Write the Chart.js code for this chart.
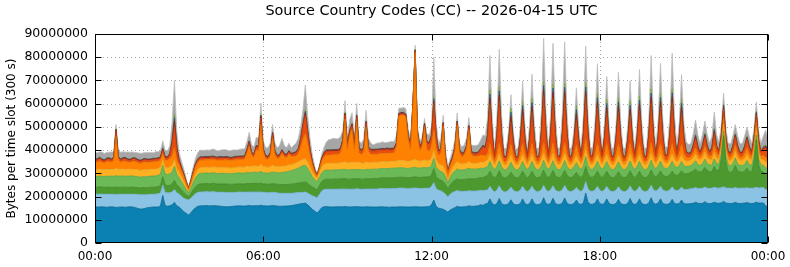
<!DOCTYPE html>
<html><head><meta charset="utf-8">
<script src="https://cdn.jsdelivr.net/npm/chart.js@4"></script>
<style>html,body{margin:0;padding:0;background:#fff}canvas{display:block}</style>
</head><body>
<canvas id="c" width="790" height="267"></canvas>
<script>
const UNIT = 1e6;
const SLOT_HOURS = 5 / 60;
const xTickHours = [0, 6, 12, 18, 24];
const yTicks = [0,10e6,20e6,30e6,40e6,50e6,60e6,70e6,80e6,90e6];
const seriesNames = ['CC 1','CC 2','CC 3','CC 4','CC 5','CC 6','CC 7','CC 8','CC 9','CC 10','other'];

const cc1 = [
15.6,15.5,15.5,15.6,15.5,15.4,15.5,15.6,15.5,15.3,15.4,15.5,15.5,15.4,15.5,15.6,15.5,15.3,15.0,14.7,14.6,14.8,15.1,15.3,
15.4,15.5,15.5,15.5,16.0,20.5,16.2,15.8,16.0,16.5,17.5,16.0,15.5,14.5,13.5,12.8,12.0,13.0,14.2,15.2,15.8,16.0,16.0,16.1,
16.1,16.0,16.0,16.1,16.0,15.9,15.8,15.7,15.6,15.6,15.7,15.8,15.9,16.0,16.0,15.9,15.9,16.0,16.2,16.0,16.0,16.1,16.0,16.3,
16.0,16.0,15.9,16.0,16.2,16.0,15.9,15.8,15.8,15.9,15.9,16.0,16.1,16.3,16.5,16.7,16.9,17.0,17.2,16.5,15.5,14.5,13.8,12.9,
14.0,15.2,15.6,15.7,15.6,15.5,15.5,15.6,15.6,15.6,15.6,15.7,15.6,15.5,15.6,15.6,15.7,15.6,15.5,15.5,15.6,15.6,15.5,15.5,
15.5,15.5,15.6,15.6,15.5,15.5,15.4,15.5,15.5,15.5,15.6,15.6,15.6,15.5,15.5,15.5,15.6,15.6,15.6,15.5,15.5,15.6,15.6,15.7,
16.5,18.5,15.8,15.0,14.8,14.5,14.0,13.3,14.2,14.8,15.2,15.8,15.5,15.5,15.6,15.7,16.0,15.8,15.8,15.9,16.0,16.5,16.2,16.8,
17.0,19.0,17.0,16.4,17.0,19.2,17.0,16.4,16.5,17.0,18.6,16.9,16.5,16.5,17.0,19.0,17.0,16.5,17.0,19.0,17.0,16.5,16.6,17.1,
19.5,17.0,16.6,17.1,19.3,17.0,16.6,16.6,17.2,19.4,17.1,16.6,16.6,17.0,18.5,16.9,16.6,17.3,21.5,17.5,16.7,16.7,17.1,19.0,
17.0,16.6,17.1,19.0,17.0,16.6,16.6,17.0,18.8,17.0,16.6,16.6,17.1,19.2,17.0,16.6,17.1,19.0,17.0,16.6,16.6,17.2,19.5,17.1,
16.7,17.2,19.0,17.0,16.7,16.7,17.1,18.8,17.0,16.8,17.0,18.5,17.0,16.8,16.9,17.0,17.1,17.6,17.1,17.0,17.1,17.8,17.1,17.0,
17.1,17.6,17.2,17.1,17.3,17.9,17.2,17.1,17.0,17.1,17.5,17.1,17.0,17.1,17.2,17.4,17.1,17.0,17.1,17.6,17.2,17.2,17.3,16.0,
15.5];

const cc2 = [
5.5,5.5,5.6,5.5,5.5,5.6,5.5,5.4,5.5,5.6,5.6,5.5,5.5,5.6,5.5,5.4,5.5,5.7,5.9,6.1,6.2,6.0,5.7,5.6,
5.6,5.5,5.6,5.7,5.5,4.5,5.6,5.8,5.6,5.5,5.5,5.6,5.6,5.6,5.8,6.0,6.5,6.3,6.1,6.0,6.0,6.0,6.0,6.0,
6.0,6.0,6.1,6.0,5.9,6.0,6.1,6.1,6.2,6.2,6.1,6.0,5.9,5.9,6.0,6.0,6.0,5.9,5.8,6.0,6.0,5.9,6.0,5.7,
5.8,5.8,5.7,5.7,5.6,5.7,5.7,5.6,5.6,5.5,5.5,5.4,5.3,5.2,5.1,5.0,4.9,4.8,4.8,5.0,5.4,5.8,6.2,6.5,
6.8,7.2,7.4,7.5,7.6,7.6,7.7,7.6,7.6,7.7,7.7,7.6,7.6,7.7,7.6,7.6,7.7,7.7,7.6,7.7,7.7,7.7,7.8,7.8,
7.8,7.8,7.9,7.9,7.9,8.0,8.0,8.0,8.0,8.0,8.1,8.1,8.1,8.0,8.0,8.0,8.1,8.1,8.0,8.0,8.0,8.0,8.0,7.9,
7.8,7.5,7.6,7.8,7.6,7.4,7.0,6.5,6.8,7.0,7.0,6.8,6.8,6.7,6.7,6.6,6.5,6.6,6.6,6.5,6.5,6.2,6.3,6.0,
5.8,5.4,5.8,5.6,5.8,5.4,5.8,5.6,5.6,5.8,5.4,5.8,5.6,5.6,5.8,5.4,5.8,5.6,5.8,5.4,5.8,5.6,5.6,5.8,
5.4,5.8,5.6,5.8,5.4,5.8,5.6,5.6,5.8,5.4,5.8,5.6,5.6,5.8,5.4,5.8,5.6,5.8,5.0,5.8,5.6,5.6,5.8,5.4,
5.8,5.6,5.8,5.4,5.8,5.6,5.6,5.8,5.4,5.8,5.6,5.6,5.8,5.4,5.8,5.6,5.8,5.4,5.8,5.6,5.6,5.8,5.4,5.8,
5.7,5.8,5.4,5.8,5.7,5.7,5.8,5.4,5.8,5.8,5.9,5.6,6.0,6.2,6.3,6.4,6.4,6.3,6.4,6.5,6.5,6.3,6.5,6.5,
6.5,6.4,6.5,6.6,6.5,6.3,6.5,6.6,6.6,6.5,6.4,6.5,6.6,6.6,6.5,6.4,6.5,6.6,6.6,6.4,6.5,6.6,6.6,7.0,
7.2];

const cc3 = [
3.0,3.0,3.1,3.0,3.0,3.1,3.0,3.0,3.0,3.2,3.0,3.0,3.1,3.0,3.0,3.0,3.1,3.0,3.0,3.0,3.0,3.1,3.0,3.0,
3.0,3.0,3.0,3.1,3.2,3.5,3.2,3.1,3.2,3.5,4.0,3.5,3.0,2.8,2.5,2.0,1.5,2.0,2.6,3.0,3.3,3.5,3.5,3.5,
3.5,3.5,3.5,3.6,3.5,3.5,3.5,3.6,3.6,3.5,3.5,3.5,3.6,3.6,3.5,3.5,3.6,3.7,3.6,3.6,3.7,3.7,3.6,3.8,
3.6,3.6,3.6,3.7,3.8,3.7,3.7,3.7,3.8,3.8,3.8,3.9,3.9,4.0,4.0,4.1,4.2,4.3,4.3,4.2,4.0,3.8,3.6,3.5,
3.8,4.0,4.2,4.3,4.3,4.3,4.3,4.4,4.3,4.3,4.4,4.4,4.3,4.3,4.4,4.4,4.3,4.4,4.4,4.3,4.4,4.4,4.4,4.5,
4.5,4.5,4.5,4.6,4.6,4.6,4.6,4.6,4.6,4.7,4.6,4.6,4.6,4.6,4.6,4.7,4.7,4.8,4.7,4.7,4.8,4.8,4.8,4.9,
5.0,6.0,5.2,4.8,4.7,4.6,4.2,3.5,4.0,4.5,4.8,5.0,5.0,5.0,5.1,5.2,5.2,5.2,5.3,5.3,5.4,5.5,5.6,5.8,
6.3,6.5,6.3,6.0,6.3,6.5,6.3,6.0,6.0,6.3,6.5,6.3,6.0,6.0,6.3,6.5,6.3,6.0,6.3,6.5,6.3,6.0,6.0,6.3,
6.5,6.3,6.0,6.3,6.5,6.3,6.0,6.0,6.3,6.5,6.3,6.0,6.0,6.3,6.5,6.3,6.0,6.3,6.5,6.3,6.0,6.0,6.3,6.5,
6.3,6.0,6.3,6.5,6.3,6.0,6.0,6.3,6.5,6.3,6.0,6.0,6.3,6.5,6.3,6.0,6.3,6.5,6.3,6.0,6.0,6.3,6.5,6.3,
6.2,6.4,6.6,6.4,6.3,6.3,6.5,6.8,6.6,6.5,6.7,7.0,6.8,6.7,6.8,7.0,7.5,8.0,7.2,7.0,7.4,8.5,7.5,7.2,
7.0,9.0,7.5,7.5,12.0,22.0,11.0,7.0,6.8,7.5,9.5,7.5,7.0,6.8,7.2,8.5,7.2,7.0,11.0,20.5,10.0,7.0,6.8,6.5,
6.5];

const cc4 = [
4.6,4.6,4.7,4.6,4.6,4.7,4.7,4.8,4.7,4.9,4.8,4.8,4.8,4.7,4.8,4.8,4.8,4.7,4.7,4.6,4.6,4.7,4.7,4.8,
4.8,4.8,4.8,4.9,5.0,5.0,4.8,4.8,5.0,5.0,6.0,4.5,4.0,3.5,3.0,2.2,1.5,2.2,3.0,3.8,4.3,4.5,4.5,4.5,
4.5,4.5,4.6,4.6,4.5,4.5,4.6,4.6,4.6,4.5,4.5,4.6,4.6,4.7,4.7,4.6,4.6,4.8,4.7,4.7,4.8,4.8,4.8,5.0,
4.8,4.8,4.8,4.9,5.0,5.0,5.0,5.1,5.2,5.3,5.5,5.6,5.8,6.0,6.2,6.5,6.8,7.2,7.2,6.5,5.5,4.5,3.8,3.5,
3.6,3.8,3.9,3.9,3.9,3.9,4.0,3.9,3.9,4.0,4.0,4.0,3.9,4.0,4.0,4.0,3.9,4.0,4.0,3.9,4.0,4.0,4.0,4.0,
4.0,4.0,4.0,4.0,4.0,4.0,4.1,4.1,4.1,4.1,4.1,4.1,4.1,4.0,4.0,4.1,4.1,4.1,4.0,4.0,4.1,4.1,4.0,4.0,
4.2,4.5,4.0,3.8,3.7,3.8,3.3,2.5,3.2,3.7,4.0,4.3,4.2,4.2,4.2,4.3,4.5,4.2,4.2,4.1,4.0,4.0,4.0,3.8,
3.8,4.2,3.8,3.4,3.8,4.2,3.8,3.4,3.4,3.8,4.2,3.8,3.4,3.4,3.8,4.2,3.8,3.4,3.8,4.2,3.8,3.4,3.4,3.8,
4.2,3.8,3.4,3.8,4.2,3.8,3.4,3.4,3.8,4.2,3.8,3.4,3.4,3.8,4.2,3.8,3.4,3.8,4.2,3.8,3.4,3.4,3.8,4.2,
3.8,3.4,3.8,4.2,3.8,3.4,3.4,3.8,4.2,3.8,3.4,3.4,3.8,4.2,3.8,3.4,3.8,4.2,3.8,3.4,3.4,3.8,4.2,3.8,
3.4,3.8,4.2,3.8,3.4,3.4,3.8,4.2,3.8,3.4,3.6,4.0,3.5,3.2,3.0,3.0,3.2,3.5,3.0,2.9,3.2,3.5,3.0,2.9,
2.9,3.2,2.9,2.8,2.5,2.0,2.5,2.9,2.9,3.0,3.2,2.9,2.8,2.8,2.9,3.2,2.9,2.8,2.5,2.0,2.5,2.8,2.8,2.8,
2.8];

const cc5 = [
3.0,3.0,3.0,3.0,3.1,3.0,3.0,3.0,3.0,3.2,3.0,3.0,3.0,3.0,3.0,3.1,3.0,3.0,3.0,3.0,3.0,3.0,3.0,3.0,
3.0,3.0,3.0,3.0,2.8,2.5,2.8,2.8,3.0,3.0,3.0,2.5,2.5,2.2,1.8,1.3,0.8,1.2,1.7,2.1,2.4,2.5,2.5,2.5,
2.5,2.5,2.5,2.5,2.6,2.5,2.5,2.5,2.5,2.6,2.5,2.5,2.5,2.5,2.6,2.6,2.6,2.8,2.6,2.6,2.8,2.7,2.7,3.0,
2.7,2.6,2.6,2.6,2.9,2.6,2.6,2.6,2.7,2.6,2.6,2.8,2.6,2.6,2.7,2.7,2.7,2.8,2.8,2.6,2.3,2.0,1.7,1.5,
2.0,2.5,2.8,3.0,3.0,3.0,3.0,3.0,3.0,3.0,3.1,3.3,3.1,3.2,3.2,3.1,3.3,3.1,3.0,3.0,3.2,3.0,3.0,3.0,
3.0,3.0,3.0,3.0,3.0,3.0,3.0,3.0,3.0,3.0,3.2,3.2,3.2,3.2,3.0,3.0,3.2,3.4,3.2,3.0,3.1,3.3,3.1,3.0,
3.0,3.5,3.0,2.8,2.8,3.0,2.2,1.5,2.0,2.5,2.8,3.2,2.8,2.6,2.6,2.6,3.0,2.6,2.5,2.5,2.5,2.7,2.6,2.7,
2.8,3.2,2.8,2.2,2.8,3.2,2.8,2.2,2.2,2.8,3.2,2.8,2.2,2.2,2.8,3.2,2.8,2.2,2.8,3.2,2.8,2.2,2.2,2.8,
3.2,2.8,2.2,2.8,3.2,2.8,2.2,2.2,2.8,3.2,2.8,2.2,2.2,2.8,3.2,2.8,2.2,2.8,3.2,2.8,2.2,2.2,2.8,3.2,
2.8,2.2,2.8,3.2,2.8,2.2,2.2,2.8,3.2,2.8,2.2,2.2,2.8,3.2,2.8,2.2,2.8,3.2,2.8,2.2,2.2,2.8,3.2,2.8,
2.2,2.8,3.2,2.8,2.2,2.2,2.8,3.2,2.8,2.4,2.6,3.0,2.6,2.4,2.3,2.3,2.6,3.0,2.5,2.3,2.6,3.0,2.5,2.3,
2.3,2.8,2.4,2.3,2.6,3.0,2.6,2.3,2.3,2.6,3.0,2.5,2.3,2.4,2.6,3.0,2.6,2.4,2.6,3.0,2.6,2.4,2.4,2.4,
2.4];

const cc6 = [
3.0,3.2,3.4,3.0,2.8,3.2,3.4,3.0,3.6,13.8,3.8,3.0,3.3,3.5,3.0,2.8,3.2,3.4,3.1,2.9,3.0,3.3,3.2,3.0,
3.0,3.2,3.1,3.0,3.0,2.5,3.0,3.2,3.5,4.0,5.0,3.5,3.0,2.5,2.0,1.5,0.8,1.3,2.0,2.6,3.0,3.2,3.2,3.2,
3.2,3.3,3.2,3.1,3.2,3.3,3.2,3.2,3.3,3.2,3.1,3.2,3.3,3.2,3.2,3.3,3.4,5.3,8.7,4.7,3.5,6.8,6.5,17.2,
6.2,3.5,3.3,4.5,11.5,5.0,3.4,3.8,5.5,4.0,3.4,4.5,3.5,3.2,3.0,3.5,5.5,8.5,10.7,8.0,5.0,3.0,1.5,0.8,
1.5,2.5,3.2,3.5,3.5,3.6,3.5,3.5,3.6,4.0,7.3,18.4,5.6,11.6,14.1,5.6,17.5,4.0,3.5,4.5,15.0,4.5,3.5,3.4,
3.5,3.5,3.4,3.5,3.5,3.6,3.5,3.5,3.6,6.0,19.0,19.4,19.4,19.0,10.0,5.0,22.0,46.1,11.0,4.5,6.0,14.0,5.0,3.8,
5.0,8.7,5.0,3.5,5.0,17.0,5.0,2.5,3.0,3.0,6.0,15.5,4.5,3.0,3.5,6.0,13.5,3.5,3.0,3.0,3.0,3.0,3.0,2.5,
2.5,4.5,2.5,1.4,2.5,4.5,2.5,1.4,1.4,2.5,4.5,2.5,1.4,1.4,2.5,4.5,2.5,1.4,2.5,4.5,2.5,1.4,1.4,2.5,
4.5,2.5,1.4,2.5,4.5,2.5,1.4,1.4,2.5,4.5,2.5,1.4,1.4,2.5,4.5,2.5,1.4,2.5,4.5,2.5,1.4,1.4,2.5,4.5,
2.5,1.4,2.5,4.5,2.5,1.4,1.4,2.5,4.5,2.5,1.4,1.4,2.5,4.5,2.5,1.4,2.5,4.5,2.5,1.4,1.4,2.5,4.5,2.5,
1.4,2.5,4.5,2.5,1.4,1.4,2.5,4.5,2.5,1.4,2.5,4.5,2.5,1.5,1.3,1.3,2.0,2.5,2.0,1.3,2.0,2.5,2.0,1.3,
2.0,3.0,2.0,1.3,2.0,2.5,2.0,1.3,1.3,2.0,2.5,2.0,1.3,1.3,2.0,2.5,2.0,1.3,2.0,2.5,2.0,1.3,2.0,2.0,
2.0];

const cc7 = [
0.8,0.9,1.0,0.8,0.7,0.9,1.0,0.8,1.0,2.0,1.0,0.8,0.9,1.0,0.8,0.7,0.9,1.0,0.9,0.8,0.8,0.9,0.9,0.8,
0.8,0.9,0.8,0.9,1.0,1.5,1.0,1.0,1.5,5.0,9.0,4.5,1.5,1.0,0.8,0.5,0.3,0.5,0.7,0.8,0.8,0.8,0.8,0.8,
0.8,0.8,0.9,0.8,0.7,0.8,0.9,0.8,0.8,0.9,0.8,0.8,0.9,0.8,0.8,0.9,0.9,1.1,1.5,1.0,0.9,1.3,1.3,2.7,
1.0,0.8,0.8,0.9,1.8,1.0,0.8,0.9,1.0,0.9,0.8,1.0,0.8,1.0,1.2,1.5,3.0,5.5,8.0,4.5,2.0,1.0,0.6,0.3,
0.5,0.9,1.2,1.5,1.5,1.5,1.5,1.5,1.5,1.5,1.6,1.8,1.5,1.6,1.7,1.5,1.8,1.5,1.5,1.5,1.7,1.5,1.5,1.4,
1.4,1.4,1.5,1.4,1.4,1.5,1.4,1.4,1.4,1.2,0.6,0.6,0.6,0.6,1.0,1.2,0.6,0.5,1.0,1.2,1.3,1.0,2.5,3.0,
4.0,11.3,5.0,1.5,1.5,1.0,1.0,0.8,0.8,1.0,1.0,1.2,1.0,1.0,1.0,1.0,1.2,1.0,1.0,1.0,1.2,2.0,3.5,3.0,
7.1,17.1,7.1,1.8,7.4,18.2,7.4,1.8,1.8,4.5,9.6,4.5,1.5,1.8,5.3,12.1,5.3,1.8,5.8,13.4,5.8,1.8,1.8,8.1,
20.2,8.1,1.8,7.8,19.3,7.8,1.8,1.8,7.9,19.5,7.9,1.8,1.8,5.0,10.8,5.0,1.8,7.3,18.0,7.3,1.8,1.8,6.5,15.5,
6.5,1.8,5.6,13.0,5.6,1.8,1.8,5.9,13.9,5.9,1.8,1.8,5.3,12.1,5.3,1.8,6.1,14.4,6.1,1.8,1.8,7.0,16.9,7.0,
1.8,6.5,15.5,6.5,1.8,1.8,7.2,17.5,7.2,1.8,5.8,13.4,5.8,2.0,1.5,1.5,2.5,4.0,2.5,1.5,2.5,3.8,2.5,1.5,
2.5,5.0,2.5,1.5,2.5,4.0,2.5,1.5,1.5,2.5,3.5,2.5,1.5,1.5,2.5,3.5,2.5,1.5,2.5,3.0,2.5,1.5,2.5,4.0,
2.5];

const cc8 = [
0.4,0.4,0.4,0.4,0.4,0.4,0.4,0.4,0.4,0.8,0.4,0.4,0.4,0.4,0.4,0.4,0.4,0.4,0.4,0.4,0.4,0.4,0.4,0.4,
0.4,0.4,0.4,0.4,0.4,0.5,0.4,0.4,0.5,1.0,2.5,1.0,0.5,0.4,0.3,0.2,0.1,0.2,0.3,0.4,0.4,0.4,0.4,0.4,
0.4,0.4,0.4,0.4,0.4,0.4,0.4,0.4,0.4,0.4,0.4,0.4,0.4,0.4,0.4,0.4,0.4,0.4,0.6,0.4,0.4,0.5,0.5,1.0,
0.4,0.4,0.4,0.4,0.6,0.4,0.4,0.4,0.4,0.4,0.4,0.4,0.4,0.4,0.4,0.5,0.6,0.8,1.0,0.8,0.5,0.4,0.3,0.2,
0.2,0.3,0.4,0.5,0.5,0.5,0.5,0.5,0.5,0.5,0.5,0.6,0.5,0.5,0.6,0.5,0.6,0.5,0.5,0.5,0.6,0.5,0.5,0.5,
0.5,0.5,0.5,0.5,0.5,0.5,0.5,0.5,0.5,0.5,0.4,0.4,0.4,0.4,0.4,0.5,0.4,0.4,0.5,0.5,0.5,0.5,0.5,0.6,
0.6,1.0,0.6,0.4,0.4,0.4,0.3,0.2,0.3,0.4,0.4,0.5,0.4,0.4,0.4,0.4,0.5,0.4,0.4,0.4,0.4,0.5,0.6,0.6,
1.0,2.5,1.0,0.3,1.0,2.5,1.0,0.3,0.3,1.0,2.5,1.0,0.3,0.3,1.0,2.5,1.0,0.3,1.0,2.5,1.0,0.3,0.3,1.0,
2.5,1.0,0.3,1.0,2.5,1.0,0.3,0.3,1.0,2.5,1.0,0.3,0.3,1.0,2.5,1.0,0.3,1.0,2.5,1.0,0.3,0.3,1.0,2.5,
1.0,0.3,1.0,2.5,1.0,0.3,0.3,1.0,2.5,1.0,0.3,0.3,1.0,2.5,1.0,0.3,1.0,2.5,1.0,0.3,0.3,1.0,2.5,1.0,
0.3,1.0,2.5,1.0,0.3,0.3,1.0,2.5,1.0,0.3,1.0,2.5,1.0,0.4,0.4,0.4,0.6,1.0,0.6,0.4,0.6,1.0,0.6,0.4,
0.6,1.2,0.6,0.4,0.6,1.0,0.6,0.4,0.4,0.6,0.8,0.6,0.4,0.4,0.6,0.8,0.6,0.4,0.6,0.8,0.6,0.4,0.6,0.8,
0.6];

const cc9 = [
0.2,0.2,0.2,0.2,0.2,0.2,0.2,0.2,0.2,0.2,0.2,0.2,0.2,0.2,0.2,0.2,0.2,0.2,0.2,0.2,0.2,0.2,0.2,0.2,
0.2,0.2,0.2,0.2,0.2,0.3,0.2,0.2,0.2,0.6,1.5,0.5,0.2,0.1,0.1,0.1,0.05,0.1,0.1,0.2,0.2,0.2,0.2,0.2,
0.2,0.2,0.2,0.2,0.2,0.2,0.2,0.2,0.2,0.2,0.2,0.2,0.2,0.2,0.2,0.2,0.2,0.2,0.2,0.2,0.2,0.2,0.2,0.3,
0.2,0.2,0.2,0.2,0.2,0.2,0.2,0.2,0.2,0.2,0.2,0.2,0.2,0.2,0.2,0.2,0.3,0.5,0.7,0.4,0.2,0.1,0.1,0.05,
0.1,0.1,0.2,0.2,0.2,0.2,0.2,0.2,0.2,0.2,0.2,0.2,0.2,0.2,0.2,0.2,0.2,0.2,0.2,0.2,0.2,0.2,0.2,0.2,
0.2,0.2,0.2,0.2,0.2,0.2,0.2,0.2,0.2,0.2,0.2,0.2,0.2,0.2,0.2,0.2,0.2,0.2,0.2,0.2,0.2,0.2,0.3,0.3,
0.4,1.0,0.4,0.2,0.2,0.2,0.1,0.1,0.1,0.2,0.2,0.2,0.2,0.2,0.2,0.2,0.2,0.2,0.2,0.2,0.2,0.2,0.3,0.3,
0.5,1.8,0.5,0.1,0.5,1.8,0.5,0.1,0.1,0.5,1.8,0.5,0.1,0.1,0.5,1.8,0.5,0.1,0.5,1.8,0.5,0.1,0.1,0.5,
1.8,0.5,0.1,0.5,1.8,0.5,0.1,0.1,0.5,1.8,0.5,0.1,0.1,0.5,1.8,0.5,0.1,0.5,1.8,0.5,0.1,0.1,0.5,1.8,
0.5,0.1,0.5,1.8,0.5,0.1,0.1,0.5,1.8,0.5,0.1,0.1,0.5,1.8,0.5,0.1,0.5,1.8,0.5,0.1,0.1,0.5,1.8,0.5,
0.1,0.5,1.8,0.5,0.1,0.1,0.5,1.8,0.5,0.1,0.5,1.8,0.5,0.2,0.2,0.2,0.3,0.5,0.3,0.2,0.3,0.5,0.3,0.2,
0.3,0.6,0.3,0.2,0.3,0.6,0.3,0.2,0.2,0.3,0.4,0.3,0.2,0.2,0.3,0.4,0.3,0.2,0.3,0.5,0.3,0.2,0.3,0.4,
0.3];

const cc10 = [
0.1,0.1,0.1,0.1,0.1,0.1,0.1,0.1,0.1,0.2,0.1,0.1,0.1,0.1,0.1,0.1,0.1,0.1,0.1,0.1,0.1,0.1,0.1,0.1,
0.1,0.1,0.1,0.1,0.1,0.2,0.1,0.1,0.2,0.6,1.5,0.5,0.1,0.1,0.1,0.1,0.05,0.1,0.1,0.1,0.1,0.1,0.1,0.1,
0.1,0.1,0.1,0.1,0.1,0.1,0.1,0.1,0.1,0.1,0.1,0.1,0.1,0.1,0.1,0.1,0.1,0.1,0.1,0.1,0.1,0.1,0.1,0.3,
0.1,0.1,0.1,0.1,0.2,0.1,0.1,0.1,0.1,0.1,0.1,0.1,0.1,0.1,0.1,0.1,0.3,0.5,0.8,0.4,0.2,0.1,0.1,0.05,
0.1,0.1,0.1,0.1,0.1,0.1,0.1,0.1,0.1,0.1,0.1,0.2,0.1,0.1,0.2,0.1,0.2,0.1,0.1,0.1,0.2,0.1,0.1,0.1,
0.1,0.1,0.1,0.1,0.1,0.1,0.1,0.1,0.1,0.1,0.1,0.1,0.1,0.1,0.1,0.1,0.1,0.2,0.1,0.1,0.1,0.1,0.2,0.3,
0.4,1.0,0.4,0.1,0.1,0.1,0.1,0.1,0.1,0.1,0.1,0.1,0.1,0.1,0.1,0.1,0.1,0.1,0.1,0.1,0.1,0.1,0.2,0.2,
0.5,1.8,0.5,0.1,0.5,1.8,0.5,0.1,0.1,0.5,1.8,0.5,0.1,0.1,0.5,1.8,0.5,0.1,0.5,1.8,0.5,0.1,0.1,0.5,
1.8,0.5,0.1,0.5,1.8,0.5,0.1,0.1,0.5,1.8,0.5,0.1,0.1,0.5,1.8,0.5,0.1,0.5,1.8,0.5,0.1,0.1,0.5,1.8,
0.5,0.1,0.5,1.8,0.5,0.1,0.1,0.5,1.8,0.5,0.1,0.1,0.5,1.8,0.5,0.1,0.5,1.8,0.5,0.1,0.1,0.5,1.8,0.5,
0.1,0.5,1.8,0.5,0.1,0.1,0.5,1.8,0.5,0.1,0.5,1.8,0.5,0.2,0.2,0.2,0.3,0.5,0.3,0.2,0.3,0.5,0.3,0.2,
0.3,0.6,0.3,0.2,0.3,0.6,0.3,0.2,0.2,0.3,0.4,0.3,0.2,0.2,0.3,0.4,0.3,0.2,0.3,0.5,0.3,0.2,0.3,0.4,
0.3];

const ccOther = [
2.8,2.5,2.2,3.0,2.6,2.4,2.3,2.9,2.2,1.8,2.3,2.8,2.5,2.2,2.9,3.0,2.5,2.2,2.6,2.9,2.7,2.4,2.6,2.8,
2.6,2.3,2.8,2.5,2.4,3.0,2.6,2.5,3.0,7.3,14.5,6.0,3.0,2.5,2.0,1.3,0.6,1.2,1.8,2.3,2.6,2.8,2.7,2.6,
2.8,2.6,2.9,3.0,2.7,2.5,2.8,3.0,2.9,2.6,2.8,3.0,2.7,2.6,2.9,3.0,2.8,3.2,3.7,3.0,2.9,3.4,3.4,5.0,
3.2,3.2,3.6,4.0,3.2,3.3,3.2,3.8,4.7,3.3,2.8,3.1,2.3,3.0,3.6,4.2,4.8,5.7,10.5,6.1,4.4,2.8,1.3,0.6,
0.9,1.6,2.2,3.3,4.3,4.5,4.8,4.6,4.5,4.8,3.7,5.1,3.5,4.4,4.5,3.5,4.9,3.0,2.6,3.6,4.5,3.6,2.6,1.8,
2.2,2.6,2.4,2.8,2.5,2.3,2.7,2.9,2.6,3.0,2.1,1.8,2.0,2.2,2.5,2.0,1.5,1.8,2.0,2.0,2.2,2.0,3.0,3.0,
3.1,17.0,5.0,3.1,4.2,3.0,2.8,2.0,2.0,2.3,3.0,3.4,2.5,2.6,2.8,3.0,3.3,2.6,2.9,3.0,3.0,3.5,4.2,4.5,
6.6,14.7,6.6,3.3,7.1,16.1,7.1,3.3,3.5,3.4,5.8,3.4,3.3,3.5,4.5,8.7,4.5,3.3,5.1,10.4,5.1,3.3,3.5,8.0,
18.6,8.0,3.5,7.6,17.5,7.6,3.3,3.5,7.7,17.8,7.7,3.3,3.5,4.0,7.6,4.0,3.5,7.0,15.8,7.0,3.3,3.5,5.9,12.8,
5.9,3.3,4.9,9.8,4.9,3.3,3.5,5.3,10.9,5.3,3.3,3.5,4.5,8.7,4.5,3.3,5.5,11.4,5.5,3.3,3.5,6.5,14.4,6.5,
3.3,5.9,12.8,5.9,3.3,3.5,6.8,15.3,6.8,3.5,5.1,10.4,5.1,4.0,3.5,3.5,4.5,6.1,4.5,3.5,4.5,5.1,4.5,3.5,
4.5,7.0,4.5,3.5,3.8,4.7,3.5,3.5,3.5,4.0,3.8,4.0,3.5,3.5,4.0,3.9,4.0,3.5,3.5,3.9,3.5,3.5,4.5,6.4,
4.5];

const fillColors   = ['#0a80b3','#8ac3e3','#4c9a2f','#6cba57','#fdb022','#fe8102','#e84d0c','#b2291c','#3a60aa','#93c43e','#a6a6a6'];
const strokeColors = ['#07668f','#74abcb','#3d8125','#58a245','#e39a1a','#e06f00','#c93f08','#931f15','#2d4d8c','#78a82f','#bdbdbd'];
const allSeries = [cc1,cc2,cc3,cc4,cc5,cc6,cc7,cc8,cc9,cc10,ccOther];

const datasets = allSeries.map((arr, k) => ({
  label: seriesNames[k],
  data: arr.map((v, i) => ({x: i * SLOT_HOURS, y: v * UNIT})),
  backgroundColor: fillColors[k],
  borderColor: strokeColors[k],
  borderWidth: 0.8,
  pointRadius: 0,
  tension: 0,
  fill: k === 0 ? 'origin' : '-1'
}));

const frame = {
  id: 'frame',
  beforeDatasetsDraw(chart) {
    const {ctx, chartArea: a, scales: {x, y}} = chart;
    ctx.save();
    ctx.strokeStyle = '#a8a8a8';
    ctx.lineWidth = 1;
    ctx.setLineDash([1, 3]);
    yTicks.forEach(v => {
      if (v <= 0 || v >= 90e6) return;
      const py = Math.round(y.getPixelForValue(v)) + 0.5;
      ctx.beginPath(); ctx.moveTo(a.left, py); ctx.lineTo(a.right, py); ctx.stroke();
    });
    xTickHours.forEach(h => {
      if (h <= 0 || h >= 24) return;
      const px = Math.round(x.getPixelForValue(h)) + 0.5;
      ctx.beginPath(); ctx.moveTo(px, a.top); ctx.lineTo(px, a.bottom); ctx.stroke();
    });
    ctx.restore();
  },
  afterDatasetsDraw(chart) {
    const {ctx, chartArea: a, scales: {x, y}} = chart;
    ctx.save();
    ctx.strokeStyle = '#000';
    ctx.lineWidth = 1;
    ctx.setLineDash([]);
    const L = Math.round(a.left) + 0.5, R = Math.round(a.right) - 0.5;
    const T = Math.round(a.top) + 0.5, B = Math.round(a.bottom) - 0.5;
    ctx.strokeRect(L, T, R - L, B - T);
    ctx.beginPath();
    yTicks.forEach(v => {
      const py = Math.round(y.getPixelForValue(v)) + 0.5;
      ctx.moveTo(L, py); ctx.lineTo(L + 6, py);
      ctx.moveTo(R, py); ctx.lineTo(R - 6, py);
    });
    xTickHours.forEach(h => {
      const px = Math.round(x.getPixelForValue(h)) + 0.5;
      ctx.moveTo(px, B); ctx.lineTo(px, B - 6);
      ctx.moveTo(px, T); ctx.lineTo(px, T + 6);
    });
    ctx.stroke();
    ctx.restore();
  }
};

Chart.defaults.font.family = "'DejaVu Sans', sans-serif";
Chart.defaults.color = '#000';

new Chart(document.getElementById('c'), {
  type: 'line',
  data: { datasets },
  options: {
    responsive: false,
    animation: false,
    devicePixelRatio: 1,
    layout: { padding: { left: 0, right: 22, top: 0, bottom: 0 } },
    plugins: {
      legend: { display: false },
      tooltip: { enabled: false },
      title: {
        display: true,
        fullSize: false,
        text: 'Source Country Codes (CC) -- 2026-04-15 UTC',
        color: '#000',
        font: { size: 14.4, weight: 'normal', family: "'DejaVu Sans', sans-serif" },
        padding: { top: 3, bottom: 13.72 }
      }
    },
    scales: {
      x: {
        type: 'linear',
        min: 0, max: 24,
        grid: { display: false, drawTicks: false },
        border: { display: false },
        ticks: {
          stepSize: 6, autoSkip: false, maxRotation: 0, padding: 7,
          font: { size: 12 },
          callback: v => String(Math.round(v) % 24).padStart(2, '0') + ':00'
        },
        afterFit: s => { s.height = 24; s.paddingLeft = 0; s.paddingRight = 0; }
      },
      y: {
        type: 'linear',
        stacked: true,
        min: 0, max: 90e6,
        grid: { display: false, drawTicks: false },
        border: { display: false },
        ticks: {
          stepSize: 10e6, padding: 7,
          font: { size: 12.5 },
          callback: v => String(Math.round(v))
        },
        title: {
          display: true,
          text: 'Bytes per time slot (300 s)',
          font: { size: 12 },
          padding: { top: 5, bottom: 0 }
        },
        afterFit: s => { s.width = 95; }
      }
    }
  },
  plugins: [frame]
});
</script>
</body></html>
